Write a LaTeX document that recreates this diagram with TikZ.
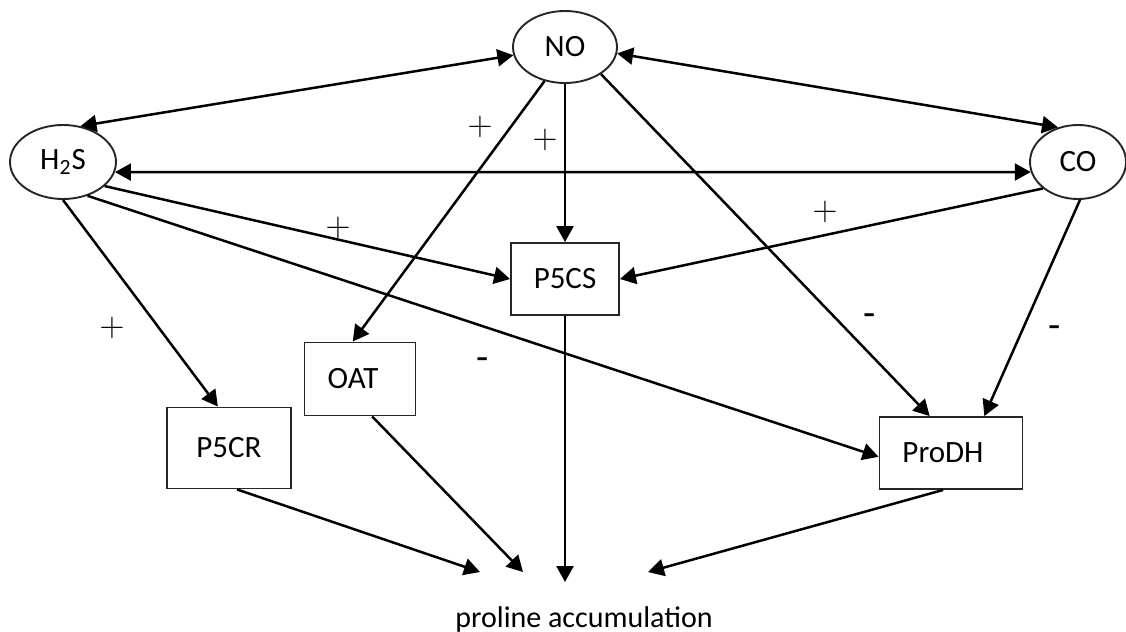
\documentclass[tikz,border=0pt]{standalone}
\usepackage{fontspec}
\setmainfont{Carlito}
\usetikzlibrary{shapes.geometric,arrows.meta}
\begin{document}
\begin{tikzpicture}[x=0.5pt,y=-0.5pt,
  every node/.style={font=\fontsize{15.5}{18}\selectfont},
  ell/.style={ellipse,draw=black!85,line width=0.95pt,inner sep=0pt},
  boxnode/.style={rectangle,draw=black!85,line width=0.95pt,inner sep=0pt},
  conn/.style={line width=1.25pt,-{Triangle[length=8pt,width=8.5pt]}},
  biconn/.style={line width=1.25pt,{Triangle[length=8pt,width=8.5pt]}-{Triangle[length=8pt,width=8.5pt]}},
  plussign/.style={inner sep=0pt,font=\fontsize{19}{21}\selectfont},
  minussign/.style={inner sep=0pt,font=\fontsize{20}{22}\selectfont}]
\useasboundingbox (0,0) rectangle (1126,632);
% nodes
\node[ell,minimum width=52pt,minimum height=36pt] (NO) at (565,47) {NO};
\node[ell,minimum width=53pt,minimum height=37pt] (H2S) at (63,162) {H\textsubscript{2}S};
\node[ell,minimum width=48pt,minimum height=37pt] (CO) at (1078,162) {CO};
\node[boxnode,minimum width=54pt,minimum height=36pt] (P5CS) at (565,279) {P5CS};
\node[boxnode,minimum width=55.5pt,minimum height=36.5pt] (OAT) at (360,379) {\kern-7pt OAT};
\node[boxnode,minimum width=62pt,minimum height=40.5pt] (P5CR) at (229,448) {P5CR};
\node[boxnode,minimum width=71.5pt,minimum height=36pt] (ProDH) at (951,453) {\kern-8pt ProDH};
\node[anchor=base,font=\fontsize{15}{18}\selectfont] (prol) at (584,627) {proline accumulation};
\coordinate (t1) at (480,572);
\coordinate (t2) at (523,572);
\coordinate (t3) at (565,582);
\coordinate (t4) at (648,572);
% connectors
\draw[biconn] (NO.189) -- (H2S.64);
\draw[biconn] (NO.353) -- (CO.120);
\draw[biconn] (H2S.349) -- (CO.192);
\draw[conn] (NO.south) -- (P5CS.north);
\draw[conn] (NO.239) -- (OAT.101);
\draw[conn] (NO.323) -- (ProDH.120);
\draw[conn] (H2S.330) -- (P5CS.west);
\draw[conn] (H2S.306) -- (ProDH.183);
\draw[conn] (H2S.south) -- (P5CR.105);
\draw[conn] (CO.217) -- (P5CS.east);
\draw[conn] (CO.273) -- (ProDH.48);
\draw[conn] (P5CS.south) -- (t3);
\draw[conn] (P5CR.281) -- (t1);
\draw[conn] (OAT.288) -- (t2);
\draw[conn] (ProDH.258) -- (t4);
% signs
\node[plussign] (s1) at (480,127) {$+$};
\node[plussign] (s2) at (545,140) {$+$};
\node[plussign] (s3) at (338,228) {$+$};
\node[plussign] (s4) at (112,328) {$+$};
\node[plussign] (s5) at (825,212) {$+$};
\node[minussign] (s6) at (483,364) {-};
\node[minussign] (s7) at (870,320) {-};
\node[minussign] (s8) at (1055,332) {-};
\end{tikzpicture}
\end{document}
